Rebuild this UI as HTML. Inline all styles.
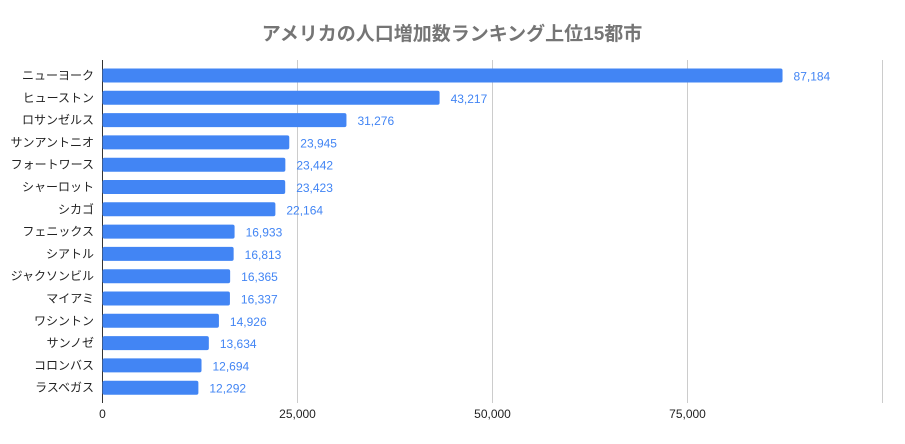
<!DOCTYPE html>
<html><head><meta charset="utf-8"><style>
body{margin:0;background:#fff;}
svg{display:block;font-family:"Liberation Sans","Noto Sans CJK JP",sans-serif;}
</style></head><body>
<svg id="chart" width="905" height="444">
<text x="452" y="40" text-anchor="middle" font-size="19" font-weight="bold" fill="#757575">アメリカの人口増加数ランキング上位15都市</text>
<g id="grid"></g><g id="bars"></g><g id="labels"></g>
</svg>
<script>
const categories=["ニューヨーク","ヒューストン","ロサンゼルス","サンアントニオ","フォートワース","シャーロット","シカゴ","フェニックス","シアトル","ジャクソンビル","マイアミ","ワシントン","サンノゼ","コロンバス","ラスベガス"];
const values=[87184,43217,31276,23945,23442,23423,22164,16933,16813,16365,16337,14926,13634,12694,12292];
const ticks=[0,25000,50000,75000,100000];
const tickLabels=["0","25,000","50,000","75,000",""];
const NS="http://www.w3.org/2000/svg";
const x0=102.5,x1=882.5,xmax=100000,yTop=64,step=22.3,barH=14;
const xs=v=>x0+(v/xmax)*(x1-x0);
const yc=i=>yTop+11.5+i*step;
function mk(t,a,p){const e=document.createElementNS(NS,t);for(const k in a)e.setAttribute(k,a[k]);p.appendChild(e);return e;}
const grid=document.getElementById('grid'),bars=document.getElementById('bars'),labels=document.getElementById('labels');
ticks.forEach((t,i)=>{
  const l=mk('line',{x1:xs(t),x2:xs(t),y1:yTop-4,y2:403,stroke:i==0?'#333':'#ccc','stroke-width':1},grid);
  
  
  const tx=mk('text',{x:xs(t),y:418,'text-anchor':'middle','font-size':12,fill:'#222'},grid);
  tx.textContent=tickLabels[i];
  
  
});
categories.forEach((c,i)=>{
  const r=mk('rect',{x:x0,y:yc(i)-barH/2,width:xs(values[i])-x0,height:barH,rx:2,fill:'#4285f4'},bars);
  
  
  const cl=mk('text',{x:94,y:yc(i)+4,'text-anchor':'end','font-size':12,fill:'#222'},labels);
  cl.textContent=c;
  
  
  const vl=mk('text',{x:xs(values[i])+11,y:yc(i)+5,'font-size':12,fill:'#4285f4'},labels);
  vl.textContent=values[i].toLocaleString('en-US');
  
  
});
</script>
</body></html>
